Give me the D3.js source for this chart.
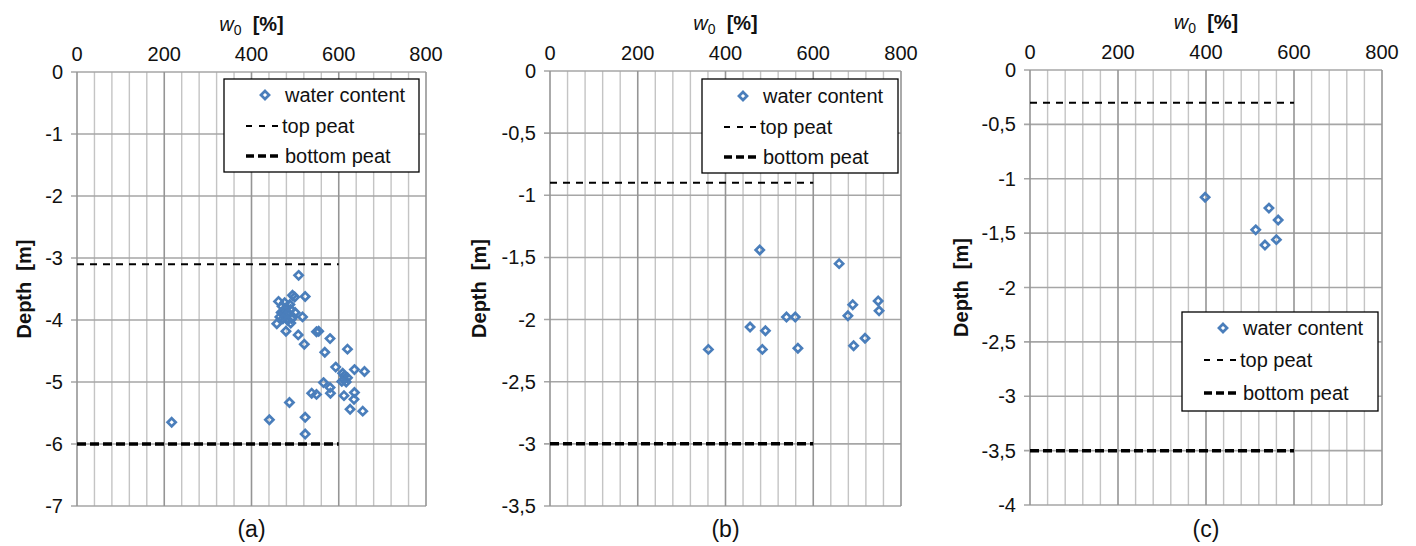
<!DOCTYPE html>
<html>
<head>
<meta charset="utf-8">
<script src="https://cdn.jsdelivr.net/npm/d3@7"></script>
<style>
  body { margin: 0; background: #fff; }
  text { font-family: "Liberation Sans", Arial, sans-serif; fill: #111; }
</style>
</head>
<body>
<div id="container"></div>
<script>
/* DATA */
// water content [%], depth [m]
const waterA = [
  [508, -3.28], [494, -3.60], [499, -3.63], [523, -3.62], [462, -3.70],
  [476, -3.72], [470, -3.78], [488, -3.75], [480, -3.80], [475, -3.85],
  [490, -3.83], [468, -3.88], [485, -3.90], [500, -3.88], [478, -3.93],
  [495, -3.95], [465, -3.95], [472, -3.98], [492, -3.98], [483, -4.00],
  [517, -3.95], [458, -4.06], [490, -4.05], [479, -4.18], [507, -4.24],
  [549, -4.19], [554, -4.18], [580, -4.30], [521, -4.39], [568, -4.52],
  [620, -4.47], [593, -4.76], [636, -4.80], [659, -4.83], [609, -4.86],
  [613, -4.90], [612, -4.96], [617, -5.00], [620, -4.93], [607, -4.99],
  [565, -5.01], [580, -5.09], [538, -5.18], [549, -5.20], [581, -5.18],
  [612, -5.22], [636, -5.17], [635, -5.28], [626, -5.44], [655, -5.47],
  [487, -5.33], [523, -5.57], [441, -5.61], [217, -5.65], [523, -5.84]
];
const waterB = [
  [478, -1.44], [659, -1.55], [748, -1.85], [690, -1.88], [750, -1.93],
  [679, -1.97], [539, -1.98], [559, -1.98], [456, -2.06], [491, -2.09],
  [718, -2.15], [692, -2.21], [361, -2.24], [484, -2.24], [565, -2.23]
];
const waterC = [
  [398, -1.17], [543, -1.27], [564, -1.38], [513, -1.47], [560, -1.56], [534, -1.61]
];
const peatTop = [-3.1, -0.9, -0.3];
const peatBottom = [-6, -3, -3.5];
const peatEndW = 600;
const depthMin = [-7, -3.5, -4];
const depthStep = [1, 0.5, 0.5];
const wTicks = [0, 200, 400, 600, 800];
const panelLabels = ["(a)", "(b)", "(c)"];
const legendItems = ["water content", "top peat", "bottom peat"];

/* LAYOUT */
const width = 1416, height = 546;
const blue = "#4a7ebb";
const panels = [
  { left: 77, right: 426, top: 72, bottom: 506, depthX: 31,
    legend: { x: 224, y: 79, w: 195, h: 93, rows: [16, 47, 77] } },
  { left: 550, right: 901, top: 71, bottom: 506, depthX: 486,
    legend: { x: 702, y: 79, w: 196, h: 94, rows: [17, 48, 78] } },
  { left: 1030, right: 1382, top: 70, bottom: 505, depthX: 968,
    legend: { x: 1182, y: 312, w: 196, h: 99, rows: [16, 48, 81] } }
];
const allData = [waterA, waterB, waterC];

const svg = d3.select("#container")
  .append("svg")
  .attr("width", width)
  .attr("height", height);

const diamond = d3.symbol().type(d3.symbolDiamond2).size(42);
const commaFmt = d => String(d).replace(".", ",");

panels.forEach((p, i) => {
  const x = d3.scaleLinear().domain([0, 800]).range([p.left, p.right]);
  const y = d3.scaleLinear().domain([0, depthMin[i]]).range([p.top, p.bottom]);
  const g = svg.append("g");

  // minor vertical grid
  g.append("g").selectAll("line")
    .data(d3.range(40, 800, 40).filter(v => v % 200 !== 0))
    .join("line")
    .attr("x1", d => x(d)).attr("x2", d => x(d))
    .attr("y1", p.top).attr("y2", p.bottom)
    .attr("stroke", "#c4c4c4").attr("stroke-width", 1.4);

  // horizontal grid + left ticks
  const yTicks = d3.range(0, depthMin[i] - 1e-9, -depthStep[i]).map(v => +v.toFixed(2));
  g.append("g").selectAll("line")
    .data(yTicks)
    .join("line")
    .attr("x1", p.left - 6).attr("x2", p.right)
    .attr("y1", d => y(d)).attr("y2", d => y(d))
    .attr("stroke", "#a6a6a6").attr("stroke-width", 1.6);

  // major vertical grid
  g.append("g").selectAll("line")
    .data(wTicks)
    .join("line")
    .attr("x1", d => x(d)).attr("x2", d => x(d))
    .attr("y1", p.top).attr("y2", p.bottom)
    .attr("stroke", "#959595").attr("stroke-width", 1.6);

  // x tick labels (top)
  g.append("g").selectAll("text")
    .data(wTicks)
    .join("text")
    .attr("x", d => x(d))
    .attr("y", p.top - 11)
    .attr("text-anchor", "middle")
    .style("font-size", "20px")
    .text(d => d);

  // y tick labels
  g.append("g").selectAll("text")
    .data(yTicks)
    .join("text")
    .attr("x", p.left - 14)
    .attr("y", d => y(d))
    .attr("dy", "0.35em")
    .attr("text-anchor", "end")
    .style("font-size", "20px")
    .text(d => i === 0 ? String(d) : commaFmt(d));

  // axis title top
  const cx = (p.left + p.right) / 2;
  const t = g.append("text")
    .attr("x", cx)
    .attr("y", p.top - 41)
    .attr("text-anchor", "middle")
    .style("font-size", "20px")
    .attr("xml:space", "preserve");
  t.append("tspan").style("font-style", "italic").text("w");
  t.append("tspan").attr("dy", 4).style("font-size", "14px").text("0");
  t.append("tspan").attr("dy", -4).style("font-weight", "bold").text("  [%]");

  // y axis title
  g.append("text")
    .attr("transform", `translate(${p.depthX},${(p.top + p.bottom) / 2}) rotate(-90)`)
    .attr("text-anchor", "middle")
    .attr("xml:space", "preserve")
    .style("font-size", "20px")
    .style("font-weight", "bold")
    .text("Depth  [m]");

  // panel label
  g.append("text")
    .attr("x", cx)
    .attr("y", 537)
    .attr("text-anchor", "middle")
    .style("font-size", "23px")
    .text(panelLabels[i]);

  // peat lines
  g.append("line")
    .attr("x1", x(0)).attr("x2", x(peatEndW))
    .attr("y1", y(peatTop[i])).attr("y2", y(peatTop[i]))
    .attr("stroke", "#000").attr("stroke-width", 2)
    .attr("stroke-dasharray", "7,6");
  g.append("line")
    .attr("x1", x(0)).attr("x2", x(peatEndW))
    .attr("y1", y(peatBottom[i])).attr("y2", y(peatBottom[i]))
    .attr("stroke", "#000").attr("stroke-width", 3.5)
    .attr("stroke-dasharray", "9,4");

  // points
  g.append("g").selectAll("path")
    .data(allData[i])
    .join("path")
    .attr("d", diamond)
    .attr("transform", d => `translate(${x(d[0])},${y(d[1])})`)
    .attr("fill", "none")
    .attr("stroke", blue)
    .attr("stroke-width", 2.7);

  // legend
  const L = p.legend;
  const lg = g.append("g").attr("transform", `translate(${L.x},${L.y})`);
  lg.append("rect")
    .attr("width", L.w).attr("height", L.h)
    .attr("fill", "#fff").attr("stroke", "#000").attr("stroke-width", 1.3);
  lg.append("path")
    .attr("d", diamond)
    .attr("transform", `translate(41,${L.rows[0]})`)
    .attr("fill", "none").attr("stroke", blue).attr("stroke-width", 2.7);
  lg.append("line")
    .attr("x1", 22).attr("x2", 56)
    .attr("y1", L.rows[1]).attr("y2", L.rows[1])
    .attr("stroke", "#000").attr("stroke-width", 2).attr("stroke-dasharray", "6,7");
  lg.append("line")
    .attr("x1", 22).attr("x2", 55)
    .attr("y1", L.rows[2]).attr("y2", L.rows[2])
    .attr("stroke", "#000").attr("stroke-width", 3.5).attr("stroke-dasharray", "8,4");
  lg.selectAll("text.leg")
    .data(legendItems)
    .join("text")
    .attr("class", "leg")
    .attr("x", (d, k) => k === 1 ? 58 : 61)
    .attr("y", (d, k) => L.rows[k])
    .attr("dy", "0.35em")
    .style("font-size", "20px")
    .text(d => d);
});
</script>
</body>
</html>
